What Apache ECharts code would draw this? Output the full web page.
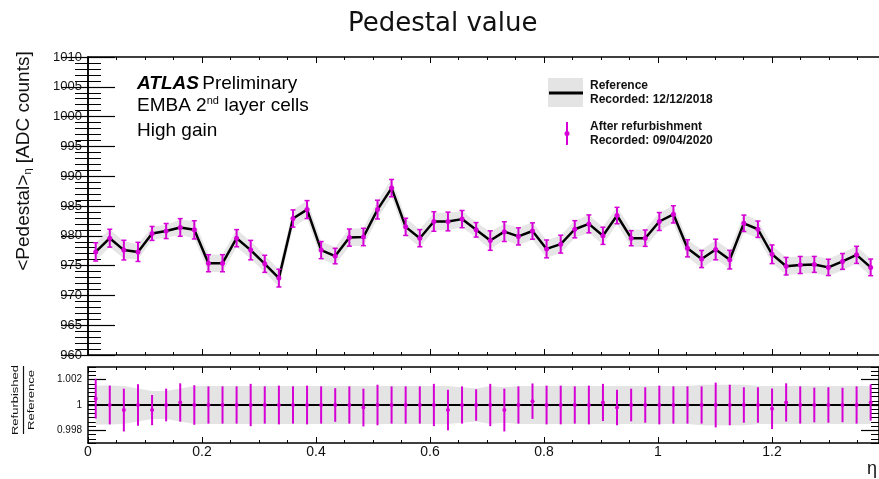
<!DOCTYPE html>
<html><head><meta charset="utf-8">
<script src="https://cdn.jsdelivr.net/npm/echarts@6/dist/echarts.min.js"></script>
<style>html,body{margin:0;padding:0;background:#fff}#c{width:879px;height:479px}</style>
</head><body><div id="c"></div>
<script>
// eta cell centres
const eta = [0.0135,0.0382,0.0629,0.0877,0.1124,0.1371,0.1618,0.1865,0.2113,0.2360,
  0.2607,0.2854,0.3101,0.3349,0.3596,0.3843,0.4090,0.4337,0.4585,0.4832,
  0.5079,0.5326,0.5573,0.5821,0.6068,0.6315,0.6562,0.6809,0.7057,0.7304,
  0.7551,0.7798,0.8045,0.8293,0.8540,0.8787,0.9034,0.9281,0.9529,0.9776,
  1.0023,1.0270,1.0517,1.0765,1.1012,1.1259,1.1506,1.1753,1.2001,1.2248,
  1.2495,1.2742,1.2989,1.3237,1.3484,1.3731];
// mean pedestal [ADC counts]
const pedestal = [977.3,979.6,977.6,977.3,980.4,980.8,981.4,981.0,975.4,975.4,
  979.6,977.6,975.3,972.9,982.9,984.4,977.6,976.6,979.7,979.8,
  984.4,988.0,981.5,979.6,982.4,982.4,982.8,981.0,979.2,980.7,
  979.9,980.8,977.8,978.6,981.1,982.0,980.0,983.4,979.6,979.6,
  982.4,983.6,977.9,976.1,977.7,976.0,982.1,981.1,976.9,974.9,
  975.1,975.2,974.7,975.7,976.8,974.7];
// refurbished / reference
const ratio = [1.0005,1.0,0.9996,1.0,0.9996,1.0,1.0002,1.0,1.0,1.0,
  1.0,1.0,1.0,1.0,1.0,1.0,1.0,1.0,1.0,0.9998,
  1.0,1.0,1.0,1.0,1.0,0.9996,1.0,1.0,1.0,0.9996,
  1.0,1.0003,1.0,1.0,1.0,1.0,1.0002,0.9998,1.0,1.0,
  1.0,1.0,1.0,1.0,1.0,1.0,1.0,1.0,0.9997,1.0002,
  1.0,1.0,1.0,1.0,1.0,1.0002];
// relative error of refurbished points
const ratioErr = [0.00157,0.00153,0.00169,0.00164,0.00119,0.00129,0.00151,0.00156,0.00147,0.00147,
  0.00147,0.00167,0.00147,0.00153,0.00147,0.00153,0.00147,0.00133,0.00147,0.00149,
  0.00160,0.00147,0.00147,0.00147,0.00167,0.00160,0.00147,0.00124,0.00167,0.00169,
  0.00147,0.00140,0.00153,0.00153,0.00147,0.00153,0.00147,0.00140,0.00129,0.00140,
  0.00153,0.00147,0.00147,0.00147,0.00177,0.00160,0.00140,0.00140,0.00160,0.00151,
  0.00147,0.00137,0.00140,0.00136,0.00147,0.00143];
// relative half-width of reference band
const refBand = [0.00153,0.00153,0.00150,0.00130,0.00110,0.00110,0.00130,0.00150,0.00150,0.00150,
  0.00150,0.00150,0.00150,0.00150,0.00150,0.00150,0.00150,0.00150,0.00150,0.00150,
  0.00150,0.00150,0.00150,0.00150,0.00150,0.00150,0.00140,0.00130,0.00150,0.00140,
  0.00150,0.00150,0.00150,0.00150,0.00150,0.00150,0.00150,0.00150,0.00150,0.00150,
  0.00150,0.00150,0.00150,0.00160,0.00160,0.00160,0.00160,0.00150,0.00150,0.00150,
  0.00150,0.00150,0.00150,0.00150,0.00150,0.00150];
const ratioTicks = [0.998, 1, 1.002];
const ratioTickLabels = ['0.998', '1', '1.002'];

const XMAX = 1.3877;
const MAG = '#d600d6';
const FONT = 'Liberation Sans, Arial, sans-serif';

const pedLo = pedestal.map((v,i)=>v*(1-refBand[i]));
const pedHi = pedestal.map((v,i)=>v*(1+refBand[i]));
const rLo = refBand.map(b=>1-b);
const rHi = refBand.map(b=>1+b);

function bandRender(lo, hi, col) {
  return function(params, api) {
    if (params.dataIndex !== 0) return;
    const pts = [];
    for (let i=0;i<eta.length;i++) pts.push(api.coord([eta[i], hi[i]]));
    for (let i=eta.length-1;i>=0;i--) pts.push(api.coord([eta[i], lo[i]]));
    return {type:'polygon', shape:{points:pts}, style:{fill:col}};
  };
}
function errRender(r, cap) {
  return function(params, api) {
    const x = api.value(0), y = api.value(1), lo = api.value(2), hi = api.value(3);
    const p = api.coord([x,y]), a = api.coord([x,hi]), b = api.coord([x,lo]);
    const ch = [
      {type:'line', shape:{x1:p[0],y1:a[1],x2:p[0],y2:b[1]}, style:{stroke:MAG, lineWidth:2}},
      {type:'circle', shape:{cx:p[0],cy:p[1],r:r}, style:{fill:MAG}}
    ];
    if (cap) {
      ch.push({type:'line', shape:{x1:p[0]-cap,y1:a[1],x2:p[0]+cap,y2:a[1]}, style:{stroke:MAG, lineWidth:1.5}});
      ch.push({type:'line', shape:{x1:p[0]-cap,y1:b[1],x2:p[0]+cap,y2:b[1]}, style:{stroke:MAG, lineWidth:1.5}});
    }
    return {type:'group', children:ch};
  };
}

const axLine = {show:true, lineStyle:{color:'#000', width:1.5}};
function xAx(gi, pos, labels) {
  return {type:'value', gridIndex:gi, position:pos, min:0, max:XMAX, interval:0.2,
    axisLine:axLine, splitLine:{show:false},
    axisTick:{show:true, inside:true, length:6, lineStyle:{color:'#000', width:1}},
    minorTick:{show:true, splitNumber:4, length:3, lineStyle:{color:'#000', width:1}},
    axisLabel: labels ? {show:true, showMaxLabel:false, margin:2, fontSize:14, color:'#111', fontFamily:FONT,
      formatter: v => (Math.abs(v - Math.round(v*5)/5) < 1e-6 && v <= 1.2001) ? String(+v.toFixed(1)) : ''} : {show:false}};
}
function yTop(pos, labels) {
  return {type:'value', gridIndex:0, position:pos, min:960, max:1010, interval:5,
    axisLine:axLine, splitLine:{show:false},
    axisTick:{show:true, inside:true, length:27, lineStyle:{color:'#000', width:1.2}},
    minorTick:{show:true, splitNumber:5, length:13, lineStyle:{color:'#000', width:1}},
    axisLabel: labels ? {show:true, margin:6, fontSize:13, color:'#111', fontFamily:FONT,
      formatter: v => String(Math.round(v))} : {show:false}};
}
function yLowMajor(pos, labels) {
  return {type:'value', gridIndex:1, position:pos, min:0.997, max:1.003,
    axisLine:axLine, splitLine:{show:false},
    axisTick:{show:true, inside:true, length:18, customValues:ratioTicks, lineStyle:{color:'#000', width:1.2}},
    axisLabel: labels ? {show:true, margin:6, fontSize:10, color:'#111', fontFamily:FONT, customValues:ratioTicks,
      formatter: v => { const k = ratioTicks.findIndex(t=>Math.abs(t-v)<1e-7); return k>=0 ? ratioTickLabels[k] : ''; }} : {show:false}};
}
function yLowMinor(pos) {
  return {type:'value', gridIndex:1, position:pos, min:0.997, max:1.003, interval:0.001,
    axisLine:{show:false}, splitLine:{show:false}, axisLabel:{show:false},
    axisTick:{show:true, inside:true, length:8, lineStyle:{color:'#000', width:1}},
    minorTick:{show:true, splitNumber:3, length:8, lineStyle:{color:'#000', width:1}}};
}

const chart = echarts.init(document.getElementById('c'), null, {renderer:'canvas'});
chart.setOption({
  animation:false,
  backgroundColor:'#fff',
  title:{text:'Pedestal value', left:343, top:6,
    textStyle:{fontSize:26, fontWeight:'normal', fontFamily:'DejaVu Sans', color:'#111'}},
  grid:[
    {left:88, right:0, top:57, height:298, containLabel:false, outerBoundsMode:'none'},
    {left:88, right:0, top:367, height:76, containLabel:false, outerBoundsMode:'none'}
  ],
  xAxis:[xAx(0,'bottom',false), xAx(0,'top',false), xAx(1,'bottom',true), xAx(1,'top',false)],
  yAxis:[yTop('left',true), yTop('right',false),
    yLowMajor('left',true), yLowMinor('left'), yLowMajor('right',false), yLowMinor('right')],
  series:[
    {type:'custom', xAxisIndex:0, yAxisIndex:0, z:1, clip:true, silent:true,
      renderItem:bandRender(pedLo, pedHi, '#e6e6e6'),
      data:eta.map((x,i)=>[x, pedLo[i], pedHi[i]]), encode:{x:0, y:[1,2]}},
    {type:'line', xAxisIndex:0, yAxisIndex:0, z:2, showSymbol:false, symbol:'none',
      lineStyle:{color:'#000', width:2.5}, data:eta.map((x,i)=>[x, pedestal[i]])},
    {type:'custom', xAxisIndex:0, yAxisIndex:0, z:3, clip:true,
      renderItem:errRender(2.5, 2.5),
      data:eta.map((x,i)=>[x, pedestal[i], pedestal[i]*(1-ratioErr[i]), pedestal[i]*(1+ratioErr[i])]),
      encode:{x:0, y:[1,2,3]}},
    {type:'custom', xAxisIndex:2, yAxisIndex:2, z:1, clip:true, silent:true,
      renderItem:bandRender(rLo, rHi, '#e4e4e4'),
      data:eta.map((x,i)=>[x, rLo[i], rHi[i]]), encode:{x:0, y:[1,2]}},
    {type:'line', xAxisIndex:2, yAxisIndex:2, z:2, showSymbol:false, symbol:'none',
      lineStyle:{color:'#000', width:2}, data:[[0,1],[XMAX,1]]},
    {type:'custom', xAxisIndex:2, yAxisIndex:2, z:3, clip:true,
      renderItem:errRender(2, 0),
      data:eta.map((x,i)=>[x, ratio[i], ratio[i]-ratioErr[i], ratio[i]+ratioErr[i]]),
      encode:{x:0, y:[1,2,3]}}
  ],
  graphic:[
    {type:'text', x:24, y:161, rotation:Math.PI/2,
      style:{text:'{a|<Pedestal>}{s|η}{a| [ADC counts]}', align:'center', verticalAlign:'middle',
        rich:{a:{fontSize:19, fontFamily:FONT, fill:'#111'}, s:{fontSize:11, fontFamily:FONT, fill:'#111', verticalAlign:'bottom', padding:[8,0,0,0]}}}},
    {type:'text', x:15.5, y:400, rotation:Math.PI/2, scaleY:0.65,
      style:{text:'Refurbished', fontSize:13, fontFamily:FONT, fill:'#111', align:'center', verticalAlign:'middle'}},
    {type:'line', shape:{x1:23.5, y1:366, x2:23.5, y2:434}, style:{stroke:'#111', lineWidth:1.2}},
    {type:'text', x:32, y:400, rotation:Math.PI/2, scaleY:0.65,
      style:{text:'Reference', fontSize:13, fontFamily:FONT, fill:'#111', align:'center', verticalAlign:'middle'}},
    {type:'text', x:137, y:83.5,
      style:{text:'{b|ATLAS} {n|Preliminary}', verticalAlign:'middle',
        rich:{b:{fontSize:19, fontWeight:'bold', fontStyle:'italic', fontFamily:FONT, fill:'#000'},
              n:{fontSize:19, fontFamily:FONT, fill:'#000'}}}},
    {type:'text', x:137, y:106,
      style:{text:'{n|EMBA 2}{s|nd}{n| layer cells}', verticalAlign:'middle',
        rich:{n:{fontSize:19, fontFamily:FONT, fill:'#000'},
              s:{fontSize:11, fontFamily:FONT, fill:'#000', verticalAlign:'top', padding:[0,0,10,0]}}}},
    {type:'text', x:137, y:131,
      style:{text:'High gain', fontSize:19, fontFamily:FONT, fill:'#000', verticalAlign:'middle'}},
    {type:'rect', shape:{x:548, y:78, width:35, height:29}, style:{fill:'#e4e4e4'}},
    {type:'line', shape:{x1:549, y1:93, x2:583, y2:93}, style:{stroke:'#000', lineWidth:3}},
    {type:'line', shape:{x1:567, y1:122, x2:567, y2:145}, style:{stroke:MAG, lineWidth:2}},
    {type:'circle', shape:{cx:567, cy:133.5, r:2.5}, style:{fill:MAG}},
    {type:'text', x:590, y:86, style:{text:'Reference', fontSize:12, fontWeight:'bold', fontFamily:FONT, fill:'#111', verticalAlign:'middle'}},
    {type:'text', x:590, y:100, style:{text:'Recorded: 12/12/2018', fontSize:12, fontWeight:'bold', fontFamily:FONT, fill:'#111', verticalAlign:'middle'}},
    {type:'text', x:590, y:127, style:{text:'After refurbishment', fontSize:12, fontWeight:'bold', fontFamily:FONT, fill:'#111', verticalAlign:'middle'}},
    {type:'text', x:590, y:141, style:{text:'Recorded: 09/04/2020', fontSize:12, fontWeight:'bold', fontFamily:FONT, fill:'#111', verticalAlign:'middle'}},
    {type:'text', x:877, y:469, style:{text:'η', fontSize:18, fontFamily:FONT, fill:'#111', align:'right', verticalAlign:'middle'}}
  ]
});
</script></body></html>
